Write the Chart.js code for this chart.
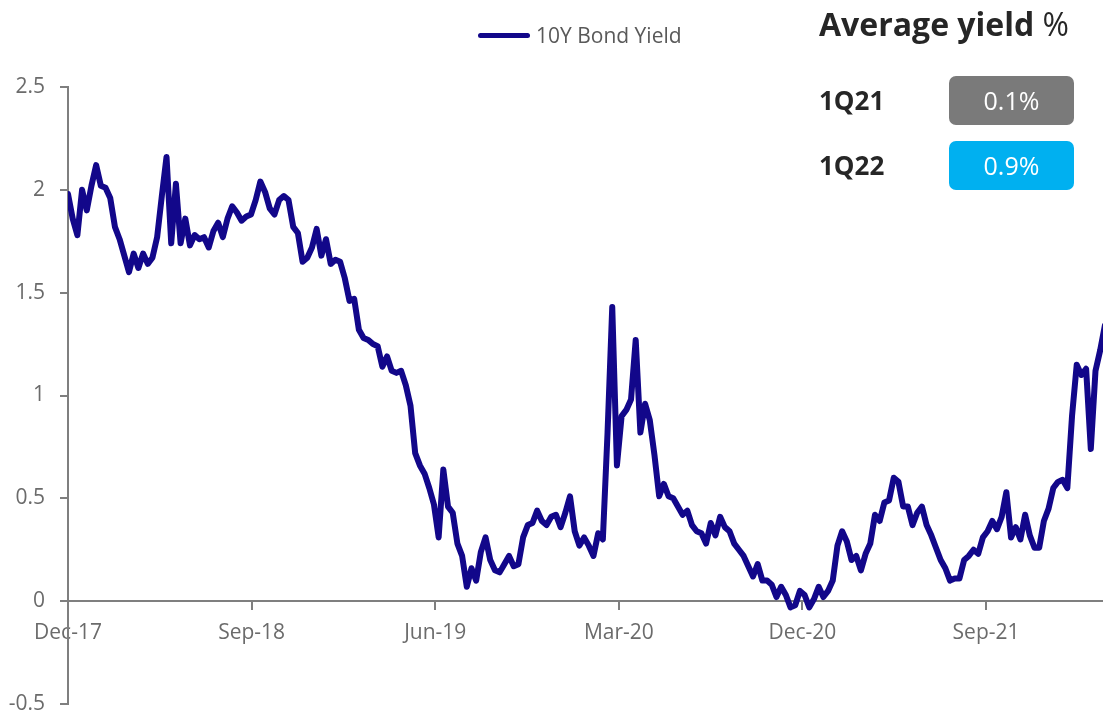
<!DOCTYPE html>
<html>
<head>
<meta charset="utf-8">
<script src="https://cdn.jsdelivr.net/npm/chart.js@4/dist/chart.umd.min.js"></script>
<style>
  body { margin: 0; background: #fff; font-family: "Open Sans", sans-serif; }
  #wrap { position: relative; width: 1103px; height: 716px; }
  #legend { position: absolute; left: 478px; top: 21px; display: flex; align-items: center; color: #595959; font-size: 21px; }
  #legend .swatch { width: 52px; height: 5px; border-radius: 3px; background: #12078a; margin-right: 6px; }
  #panel { position: absolute; left: 819px; top: 2px; width: 270px; color: #262626; }
  #panel h2 { margin: 0; font-size: 32px; font-weight: 700; line-height: 44px; white-space: nowrap; }
  #panel h2 span { font-weight: 400; }
  .row { position: absolute; left: 0; width: 256px; height: 49px; }
  .row b { position: absolute; left: 0; top: 0; line-height: 49px; font-size: 26px; }
  .row .box { position: absolute; left: 130px; top: 0; width: 125px; height: 49px; border-radius: 7px; color: #fff; font-size: 25px; line-height: 49px; text-align: center; }
</style>
</head>
<body>
<div id="wrap">
  <canvas id="yieldChart" width="1103" height="716"></canvas>
  <div id="legend"><div class="swatch"></div>10Y Bond Yield</div>
  <div id="panel"><h2>Average yield <span>%</span></h2></div>
</div>
<script>
  // Weekly 10Y bond yield (%), starting Dec 2017
  const yields = [
    1.98, 1.86, 1.78, 2.00, 1.90, 2.02, 2.12, 2.02, 2.01, 1.96,
    1.82, 1.76, 1.68, 1.60, 1.69, 1.62, 1.69, 1.64, 1.67, 1.77,
    1.97, 2.16, 1.74, 2.03, 1.74, 1.86, 1.73, 1.78, 1.76, 1.77,
    1.72, 1.80, 1.84, 1.77, 1.86, 1.92, 1.89, 1.85, 1.87, 1.88,
    1.95, 2.04, 1.99, 1.91, 1.88, 1.95, 1.97, 1.95, 1.82, 1.79,
    1.65, 1.67, 1.72, 1.81, 1.68, 1.76, 1.64, 1.66, 1.65, 1.57,
    1.46, 1.47, 1.32, 1.28, 1.27, 1.25, 1.24, 1.14, 1.19, 1.12,
    1.11, 1.12, 1.05, 0.95, 0.72, 0.66, 0.62, 0.55, 0.47, 0.31,
    0.64, 0.46, 0.43, 0.28, 0.22, 0.07, 0.16, 0.10, 0.24, 0.31,
    0.20, 0.15, 0.14, 0.18, 0.22, 0.17, 0.18, 0.31, 0.37, 0.38,
    0.44, 0.39, 0.37, 0.41, 0.42, 0.36, 0.43, 0.51, 0.34, 0.27,
    0.31, 0.27, 0.22, 0.33, 0.30, 0.82, 1.43, 0.66, 0.90, 0.93,
    0.98, 1.27, 0.82, 0.96, 0.88, 0.71, 0.51, 0.57, 0.51, 0.50,
    0.46, 0.42, 0.44, 0.37, 0.34, 0.33, 0.28, 0.38, 0.32, 0.41,
    0.36, 0.34, 0.28, 0.25, 0.22, 0.17, 0.12, 0.18, 0.10, 0.10,
    0.08, 0.02, 0.07, 0.03, -0.03, -0.02, 0.05, 0.03, -0.03, 0.01,
    0.07, 0.02, 0.05, 0.10, 0.27, 0.34, 0.29, 0.20, 0.22, 0.15,
    0.23, 0.28, 0.42, 0.39, 0.48, 0.49, 0.60, 0.58, 0.46, 0.46,
    0.37, 0.43, 0.46, 0.37, 0.32, 0.26, 0.20, 0.16, 0.10, 0.11,
    0.11, 0.20, 0.22, 0.25, 0.23, 0.31, 0.34, 0.39, 0.35, 0.41,
    0.53, 0.31, 0.36, 0.30, 0.42, 0.32, 0.26, 0.26, 0.39, 0.45,
    0.55, 0.58, 0.59, 0.55, 0.90, 1.15, 1.10, 1.13, 0.74, 1.12,
    1.22, 1.34
  ];

  // x-axis labels and their month offsets from Dec-17
  const tickLabels = ['Dec-17', 'Sep-18', 'Jun-19', 'Mar-20', 'Dec-20', 'Sep-21'];
  const tickMonths = [0, 9, 18, 27, 36, 45];

  // quarterly averages shown in the side panel
  const quarters = ['1Q21', '1Q22'];
  const avgYield = [0.1, 0.9];
  const boxColors = ['#7a7a7a', '#00b0f0'];

  const WEEKS_PER_MONTH = 52.18 / 12;
  const tickWeeks = tickMonths.map(m => m * WEEKS_PER_MONTH);
  const axisColor = '#7f7f7f';
  const tickFont = { family: 'Open Sans', size: 21 };

  // side panel rows
  const panel = document.getElementById('panel');
  quarters.forEach((q, i) => {
    const row = document.createElement('div');
    row.className = 'row';
    row.style.top = (74 + i * 65) + 'px';
    row.innerHTML = `<b>${q}</b><div class="box" style="background:${boxColors[i]}">${avgYield[i].toFixed(1)}%</div>`;
    panel.appendChild(row);
  });

  const ctx = document.getElementById('yieldChart').getContext('2d');
  new Chart(ctx, {
    type: 'line',
    data: {
      datasets: [{
        label: '10Y Bond Yield',
        data: yields.map((v, i) => ({ x: i, y: v })),
        borderColor: '#12078a',
        borderWidth: 6,
        pointRadius: 0,
        tension: 0,
        borderJoinStyle: 'round',
        borderCapStyle: 'round'
      }]
    },
    options: {
      responsive: false,
      animation: false,
      layout: { padding: { top: 87, bottom: 12, left: 0, right: 0 } },
      plugins: { legend: { display: false }, tooltip: { enabled: false } },
      scales: {
        x: {
          type: 'linear',
          min: 0,
          max: 220.6,
          position: { y: 0 },
          afterBuildTicks: scale => { scale.ticks = tickWeeks.map(v => ({ value: v })); },
          ticks: {
            callback: (v, i) => tickLabels[i],
            color: '#6b6b6b',
            font: tickFont,
            padding: 11,
            maxRotation: 0,
            autoSkip: false
          },
          grid: { drawOnChartArea: false, drawTicks: true, tickLength: 8, color: axisColor, lineWidth: 2 },
          border: { color: axisColor, width: 2 }
        },
        y: {
          min: -0.5,
          max: 2.5,
          // fixed axis width; labels may overhang the bottom of the plot
          afterFit: scale => { scale.width = 68; scale.paddingBottom = 0; },
          ticks: {
            stepSize: 0.5,
            callback: v => String(v),
            color: '#6b6b6b',
            font: tickFont,
            padding: 15
          },
          grid: { drawOnChartArea: false, drawTicks: true, tickLength: 8, color: axisColor, lineWidth: 2 },
          border: { color: axisColor, width: 2 }
        }
      }
    }
  });
</script>
</body>
</html>
